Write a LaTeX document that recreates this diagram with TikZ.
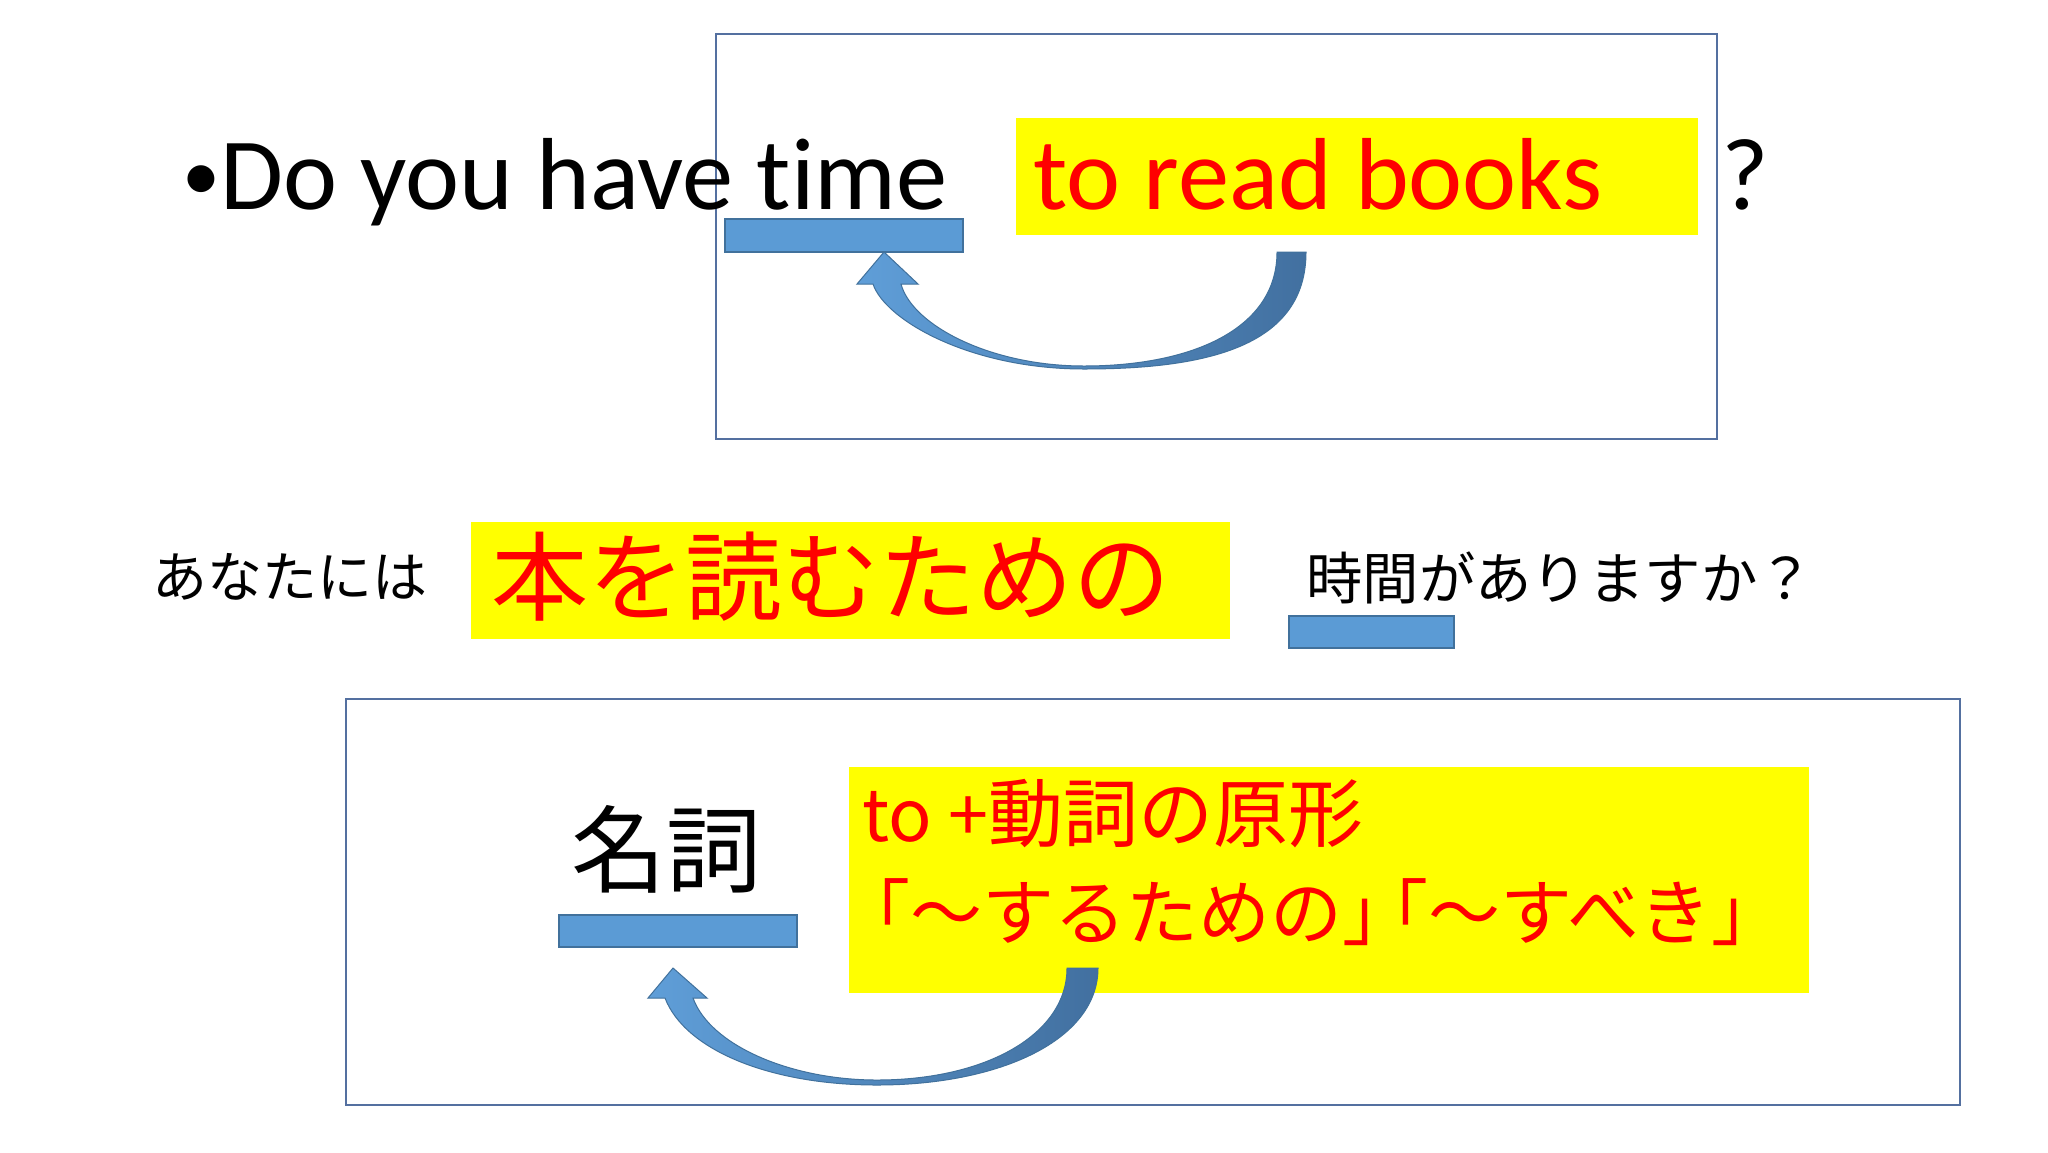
\documentclass[tikz,border=0pt]{standalone}
\usepackage{fontspec}
\setmainfont{Carlito}[Ligatures=NoCommon]
\newfontfamily\jp{Noto Sans CJK JP}
\definecolor{boxline}{RGB}{84,112,160}
\definecolor{barfill}{RGB}{91,155,213}
\definecolor{barline}{RGB}{65,113,156}
\definecolor{arrowL}{RGB}{95,158,216}
\definecolor{arrowR}{RGB}{66,112,160}
\definecolor{hiyellow}{RGB}{255,255,0}
\definecolor{hired}{RGB}{255,0,0}
\begin{document}
\begin{tikzpicture}[x=0.5pt,y=-0.5pt,
  frame/.style={draw=boxline,line width=1pt},
  hilite/.style={fill=hiyellow},
  bar/.style={fill=barfill,draw=barline,line width=0.8pt},
  curvearrow/.style={left color=arrowL,right color=arrowR,draw=barline,line width=0.5pt},
  entxt/.style={font=\fontsize{51.2pt}{60pt}\selectfont,inner sep=0pt,anchor=base west},
  jpsmall/.style={font=\jp\fontsize{27.5pt}{32pt}\selectfont,inner sep=0pt,anchor=center},
  jpbig/.style={font=\jp\fontsize{48.5pt}{56pt}\selectfont,inner sep=0pt,anchor=center,text=hired},
  jpmid/.style={font=\jp\fontsize{36pt}{42pt}\selectfont,inner sep=0pt,anchor=west,text=hired}]
\useasboundingbox (0,0) rectangle (2048,1152);
\fill[white] (0,0) rectangle (2048,1152);

% ---------- top section ----------
\draw[frame] (716,34) rectangle (1717,439);
\fill[hilite] (1016,118) rectangle (1698,235);
\draw[bar] (725,219) rectangle (963,252);
\coordinate (ta1) at (1306,252);
\coordinate (ta2) at (1277,252);
\shade[curvearrow] (ta1) .. controls (1306,345) and (1210,369) .. (1084,369)
  .. controls (970,369) and (885,320) .. (873,284) -- (857,284) -- (884,252)
  -- (918,284) -- (901,284) .. controls (912,325) and (990,366) .. (1084,366)
  .. controls (1190,366) and (1277,330) .. (ta2) -- cycle;
\node[entxt] (q1) at (182,209) {{\fontsize{38pt}{40pt}\selectfont\raisebox{4.5pt}{•}}Do you have time};
\node[entxt,text=hired] (q2) at (1033,209) {to read books};
\node[entxt] (q3) at (1721,209) {?};

% ---------- middle row ----------
\fill[hilite] (471,522) rectangle (1230,639);
\draw[bar] (1289,616) rectangle (1454,648);
\node[jpsmall] (m1) at (290,577) {あなたには};
\node[jpbig] (m2) at (831,577) {本を読むための};
\node[jpsmall,font=\jp\fontsize{28.2pt}{32pt}\selectfont] (m3) at (1560,578) {時間がありますか？};

% ---------- bottom section ----------
\draw[frame] (346,699) rectangle (1960,1105);
\fill[hilite] (849,767) rectangle (1809,993);
\draw[bar] (559,915) rectangle (797,947);
\node[font=\jp\fontsize{47.5pt}{56pt}\selectfont,inner sep=0pt] (n1) at (666,849) {名詞};
\node[jpmid] (n2) at (862,814) {to +{\fontsize{37.5pt}{42pt}\selectfont 動詞の原形}};
\node[jpmid] (n3) at (838,912) {「～するための」\kern-0.8em「～すべき」};
\coordinate (ba1) at (1098,968);
\coordinate (ba2) at (1067,968);
\shade[curvearrow] (ba1) .. controls (1098,1040) and (1000,1085) .. (877,1085)
  .. controls (770,1085) and (685,1050) .. (665,998) -- (648,998) -- (673,968)
  -- (707,998) -- (693,998) .. controls (710,1045) and (790,1080) .. (877,1080)
  .. controls (985,1080) and (1067,1035) .. (ba2) -- cycle;
\end{tikzpicture}
\end{document}
